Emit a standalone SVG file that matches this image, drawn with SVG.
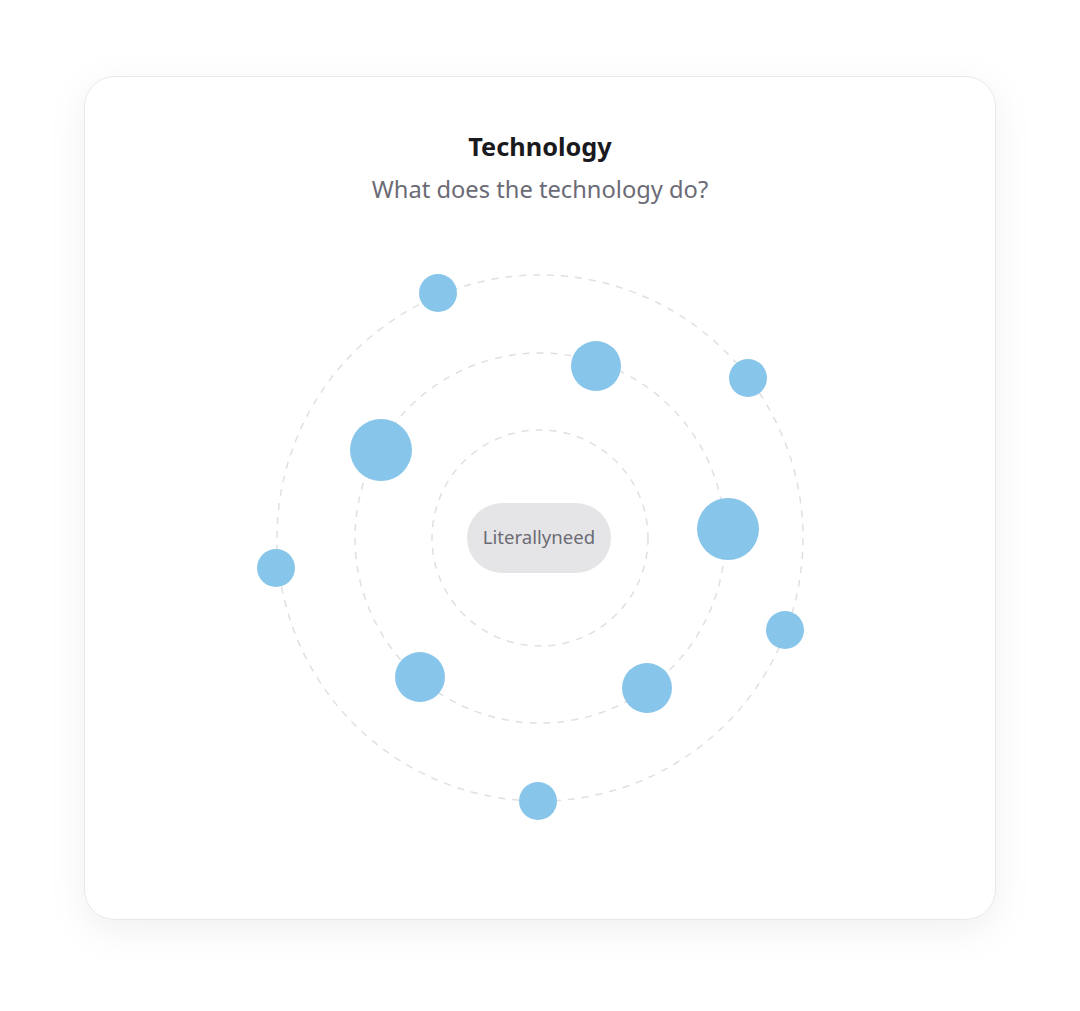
<svg xmlns="http://www.w3.org/2000/svg" width="1080" height="1011" viewBox="0 0 1080 1011">
<defs>
<filter id="sh" x="-20%" y="-20%" width="140%" height="140%">
<feDropShadow dx="0" dy="10" stdDeviation="18" flood-color="#000" flood-opacity="0.06"/>
</filter>
<style>
.orbit{fill:none;stroke:#e0e0e2;stroke-width:1.5;stroke-dasharray:7 7}
.node{fill:#87c6ea}
.t{font-family:"Noto Sans","Open Sans",sans-serif}
</style>
</defs>
<rect width="1080" height="1011" fill="#ffffff"/>
<rect x="84.500" y="76.500" width="911" height="843" rx="30" fill="#ffffff" stroke="#e8e8ea" stroke-width="1" filter="url(#sh)"/>
<text class="t" x="540" y="156" text-anchor="middle" font-size="25.3" font-weight="700" fill="#1a1a1e">Technology</text>
<text class="t" x="540" y="198" text-anchor="middle" font-size="23.7" fill="#6b6b76">What does the technology do?</text>
<g id="connectors">
<circle class="orbit" cx="540" cy="538" r="108"/>
<circle class="orbit" cx="540" cy="538" r="185"/>
<circle class="orbit" cx="540" cy="538" r="263"/>
</g>
<g id="center">
<rect x="467" y="503" width="144" height="70" rx="35" fill="#e5e5e7"/>
<text class="t" x="539" y="544" text-anchor="middle" font-size="18.6" fill="#6b6b73">Literallyneed</text>
</g>
<g id="n1"><circle class="node" cx="438" cy="293" r="19"/></g>
<g id="n2"><circle class="node" cx="596" cy="366" r="25"/></g>
<g id="n3"><circle class="node" cx="748" cy="378" r="19"/></g>
<g id="n4"><circle class="node" cx="381" cy="450" r="31"/></g>
<g id="n5"><circle class="node" cx="728" cy="529" r="31"/></g>
<g id="n6"><circle class="node" cx="276" cy="568" r="19"/></g>
<g id="n7"><circle class="node" cx="785" cy="630" r="19"/></g>
<g id="n8"><circle class="node" cx="420" cy="677" r="25"/></g>
<g id="n9"><circle class="node" cx="647" cy="688" r="25"/></g>
<g id="n10"><circle class="node" cx="538" cy="801" r="19"/></g>
</svg>
